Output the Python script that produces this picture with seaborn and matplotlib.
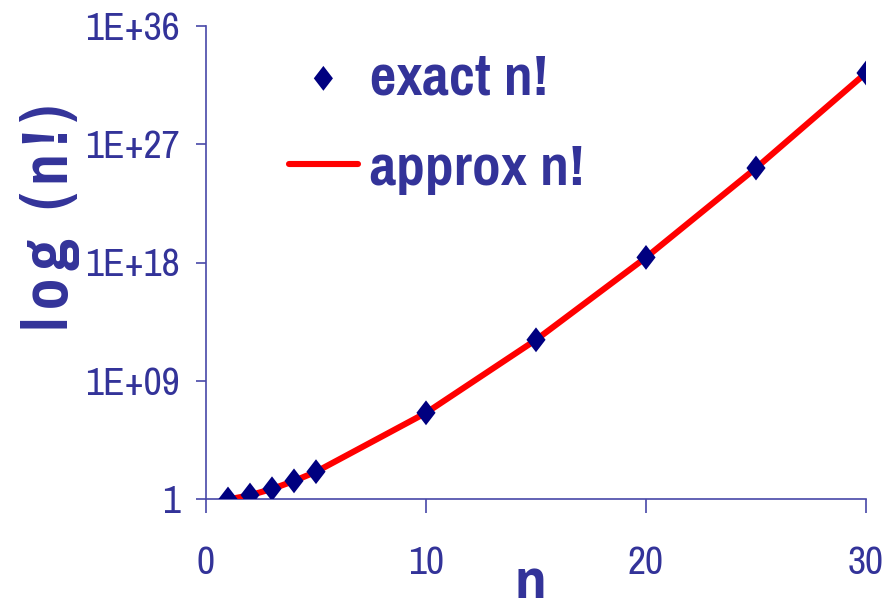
import matplotlib
matplotlib.use("Agg")
import matplotlib.pyplot as plt
import seaborn as sns
import pandas as pd

# n values and factorials (exact and Stirling's approximation)
n_values = [1, 2, 3, 4, 5, 10, 15, 20, 25, 30]
exact_factorial = [1, 2, 6, 24, 120, 3628800, 1.3077e12, 2.4329e18, 1.5511e25, 2.6525e32]
approx_factorial = [0.9221, 1.919, 5.836, 23.51, 118.0, 3.5987e6, 1.3004e12, 2.4228e18, 1.5460e25, 2.6452e32]

x_ticks = [0, 10, 20, 30]
y_ticks = [1, 1e9, 1e18, 1e27, 1e36]
y_tick_labels = ["1", "1E+09", "1E+18", "1E+27", "1E+36"]

df = pd.DataFrame({"n": n_values, "exact": exact_factorial, "approx": approx_factorial})

sns.set_style("white")
FONT = ["Pragati Narrow", "DejaVu Sans"]
plt.rcParams["font.family"] = FONT

TEXT = "#333399"
AXIS = "#4848A8"

fig = plt.figure(figsize=(8.95, 5.98), dpi=100)
ax = fig.add_axes([206 / 895, 99 / 598, 660 / 895, 473 / 598])

diamond = [(-0.77, 0), (0, 1), (0.77, 0), (0, -1), (-0.77, 0)]

sns.lineplot(data=df, x="n", y="approx", ax=ax, color="#FF0000", linewidth=4.4,
             solid_capstyle="round", label="approx n!", zorder=2)
sns.scatterplot(data=df, x="n", y="exact", ax=ax, marker=diamond, s=320,
                color="#000080", edgecolor="none", label="exact n!", zorder=3)

ax.set_yscale("log")
ax.set_xlim(0, 30)
ax.set_ylim(1, 1e36)
ax.set_xticks(x_ticks)
ax.set_xticklabels([str(t) for t in x_ticks])
ax.set_yticks(y_ticks)
ax.set_yticklabels(y_tick_labels)
ax.minorticks_off()

for side in ["top", "right"]:
    ax.spines[side].set_visible(False)
for side in ["left", "bottom"]:
    ax.spines[side].set_color(AXIS)
    ax.spines[side].set_linewidth(1.2)
    ax.spines[side].set_zorder(1)

ax.tick_params(axis="y", direction="out", length=7, width=1.2, color=AXIS,
               labelsize=31, labelcolor=TEXT, pad=12, left=True)
ax.tick_params(axis="x", direction="out", length=10, width=1.2, color=AXIS,
               labelsize=31, labelcolor=TEXT, pad=24, bottom=True)

# letter-spaced axis title (hair spaces between letters)
hs = "\u200a"
ylabel = hs.join("log") + "  " + hs.join("(n!)")
ax.set_ylabel(ylabel, fontsize=50, fontweight="bold", color=TEXT)
ax.yaxis.set_label_coords(-0.191, 0.594)
ax.set_xlabel("n", fontsize=50, fontweight="bold", color=TEXT)
ax.xaxis.label.set_va("baseline")
ax.xaxis.set_label_coords(0.491, -0.2197)

handles, labels = ax.get_legend_handles_labels()
order = [labels.index("exact n!"), labels.index("approx n!")]
leg = ax.legend([handles[i] for i in order], [labels[i] for i in order],
                loc="upper left", bbox_to_anchor=(289 / 895, 1 - 51 / 598),
                bbox_transform=fig.transFigure, frameon=False,
                prop={"family": FONT, "weight": "bold", "size": 45},
                handlelength=1.1, handletextpad=0.2, labelspacing=0.59,
                borderpad=0, borderaxespad=0)
for t in leg.get_texts():
    t.set_color(TEXT)

fig.savefig("out.png", dpi=100)
